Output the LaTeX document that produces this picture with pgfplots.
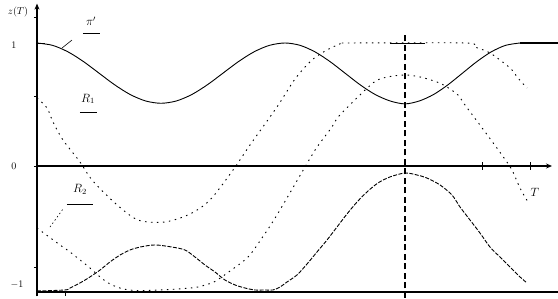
\documentclass[border=0pt]{standalone}
\usepackage{pgfplots}
\pgfplotsset{compat=1.18}
\usetikzlibrary{arrows.meta}
\begin{document}
\begin{tikzpicture}
\useasboundingbox (-37pt,0pt) rectangle (521pt,298pt);
\begin{axis}[at={(0,0)},anchor=south west,scale only axis,width=521pt,height=298pt,
  xmin=0,xmax=521,ymin=-1.0732,ymax=1.3496,hide axis,clip=false]
% axes
\draw[line width=1.5pt,-{Stealth[length=6pt,width=5pt]}] (axis cs:0,-1.06) -- (axis cs:0,1.32);
\draw[line width=1.4pt,-{Stealth[length=6pt,width=5pt]}] (axis cs:0,0) -- (axis cs:515,0);
\draw[line width=1.5pt] (axis cs:0,-1.024) -- (axis cs:521,-1.024);
\draw[line width=1.4pt,dash pattern=on 6pt off 3.5pt] (axis cs:368,-1.0732) -- (axis cs:368,1.065);
\draw[line width=0.8pt] (axis cs:353,1.0) -- (axis cs:388,1.0);
% ticks
\draw[line width=0.8pt] (axis cs:0,1.0) -- (axis cs:8,1.0);
\draw[line width=0.8pt] (axis cs:-3,1.211) -- (axis cs:0,1.211);
\draw[line width=0.8pt] (axis cs:-3,0.569) -- (axis cs:0,0.569);
\draw[line width=0.8pt] (axis cs:-3,0) -- (axis cs:0,0);
\draw[line width=0.8pt] (axis cs:-3,-0.821) -- (axis cs:0,-0.821);
\draw[line width=0.8pt] (axis cs:445,-0.03) -- (axis cs:445,0.03);
\draw[line width=0.8pt] (axis cs:493,-0.03) -- (axis cs:493,0.03);
\draw[line width=0.8pt] (axis cs:28,-1.024) -- (axis cs:28,-1.06);
% labels
\node at (axis cs:-19,1.255) {$z(T)$};
\node at (axis cs:-23,0.984) {1};
\node at (axis cs:-23,0) {0};
\node at (axis cs:-20,-0.967) {$-1$};
\node at (axis cs:498,-0.211) {\large $T$};
\node at (axis cs:54,1.175) {\large $\pi'$};
\draw[line width=0.9pt] (axis cs:46,1.081) -- (axis cs:63,1.081);
\draw[line width=0.6pt] (axis cs:25,0.959) -- (axis cs:35,1.024);
\node at (axis cs:51,0.545) {\large $R_1$};
\draw[line width=0.9pt] (axis cs:43,0.439) -- (axis cs:60,0.439);
\node at (axis cs:43,-0.19) {\large $R_2$};
\draw[line width=0.9pt] (axis cs:30,-0.309) -- (axis cs:56,-0.309);
\draw[line width=0.6pt,dash pattern=on 1.5pt off 2.5pt] (axis cs:13,-0.496) -- (axis cs:26,-0.35);
% solid curve pi'
\addplot[black,line width=0.9pt,smooth] coordinates {
(0,1.0)(15.5,0.981)(31,0.928)(46.5,0.849)(62,0.755)(77.5,0.661)(93,0.582)(108.5,0.529)(124,0.51)
(139.5,0.529)(155,0.582)(170.5,0.661)(186,0.755)(201.5,0.849)(217,0.928)(232.5,0.981)(248,1.0)
(263,0.981)(278,0.928)(293,0.849)(308,0.755)(323,0.661)(338,0.582)(353,0.529)(368,0.505)
(382.4,0.529)(396.75,0.582)(411.1,0.661)(425.5,0.755)(439.9,0.849)(454.25,0.928)(468.6,0.981)(483,1.0)};
\addplot[black,line width=1.1pt] coordinates {(483,1.0)(521,1.0)};
% dotted curve A
\addplot[black,line width=0.9pt,dash pattern=on 1.5pt off 4.5pt,smooth,tension=0.5] coordinates {
(0,0.553)(10,0.472)(16,0.358)(26,0.211)(43,0.033)(55,-0.114)(78,-0.301)(101,-0.439)(128,-0.455)
(153,-0.390)(173,-0.276)(196,-0.033)(213,0.171)(240,0.480)(258,0.707)(275,0.862)(290,0.943)
(303,0.992)(311,1.0)(428,1.0)(438,0.967)(453,0.919)(473,0.797)(481,0.715)(490,0.634)};
% dotted curve C
\addplot[black,line width=0.9pt,dash pattern=on 1.5pt off 4.5pt,smooth,tension=0.5] coordinates {
(0,-0.504)(23,-0.642)(33,-0.699)(43,-0.764)(53,-0.829)(63,-0.902)(73,-0.959)(85,-0.997)(98,-1.013)
(108,-1.013)(133,-1.004)(158,-0.988)(170,-0.963)(178,-0.939)(193,-0.854)(211,-0.740)(225,-0.585)
(240,-0.398)(275,0.089)(283,0.187)(295,0.317)(303,0.415)(336,0.675)(351,0.724)(368,0.740)
(383,0.724)(400,0.683)(410,0.642)(421,0.577)(428,0.496)(443,0.333)(465,0.089)(475,-0.033)
(483,-0.179)(491,-0.293)};
% dashed curve D
\addplot[black,line width=0.9pt,dash pattern=on 4pt off 1.5pt,smooth,tension=0.5] coordinates {
(0,-1.016)(28,-1.008)(33,-0.992)(43,-0.951)(53,-0.902)(63,-0.846)(73,-0.780)(83,-0.724)(93,-0.683)
(103,-0.659)(118,-0.642)(135,-0.659)(148,-0.683)(158,-0.740)(168,-0.805)(178,-0.862)(188,-0.927)
(198,-0.967)(208,-0.992)(218,-1.008)(228,-1.008)(236,-1.008)(243,-0.984)(250,-0.943)(260,-0.886)
(270,-0.797)(280,-0.699)(290,-0.602)(300,-0.496)(310,-0.390)(320,-0.293)(330,-0.211)(341,-0.138)
(353,-0.089)(368,-0.057)(380,-0.073)(390,-0.098)(403,-0.154)(415,-0.236)(423,-0.333)(433,-0.439)
(443,-0.545)(453,-0.659)(463,-0.740)(473,-0.821)(483,-0.902)(490,-0.951)};
\end{axis}
\end{tikzpicture}
\end{document}
